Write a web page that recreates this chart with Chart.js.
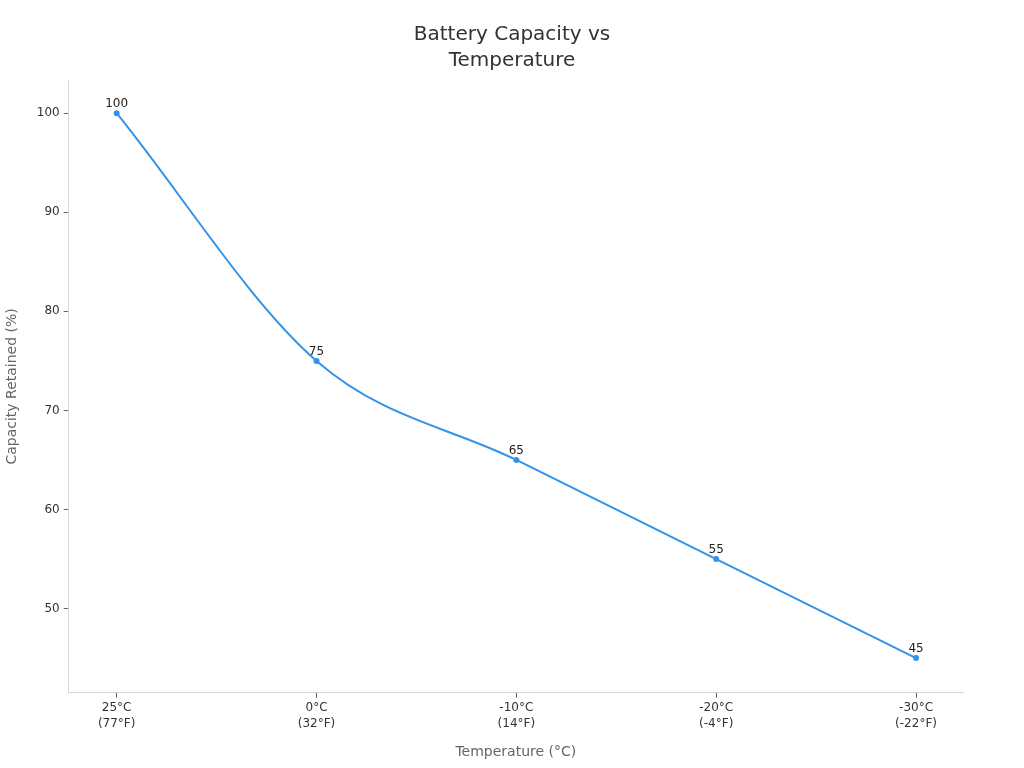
<!DOCTYPE html>
<html>
<head>
<meta charset="utf-8">
<script src="https://cdn.jsdelivr.net/npm/chart.js@4/dist/chart.umd.min.js"></script>
<style>
  html, body { margin: 0; padding: 0; background: #fff; }
  #wrap { width: 1024px; height: 768px; }
</style>
</head>
<body>
<div id="wrap"><canvas id="chart" width="1024" height="768"></canvas></div>
<script>
// ==== data ====
const tempLabels = [["25°C", "(77°F)"], ["0°C", "(32°F)"], ["-10°C", "(14°F)"], ["-20°C", "(-4°F)"], ["-30°C", "(-22°F)"]];
const capacity = [100, 75, 65, 55, 45];
const yTicks = [50, 60, 70, 80, 90, 100];

const LINE = '#3393e8';
const FONT = "'DejaVu Sans', sans-serif";

// draws the value above each point
const pointLabels = {
  id: 'pointLabels',
  afterDatasetsDraw(chart) {
    const ctx = chart.ctx;
    const meta = chart.getDatasetMeta(0);
    ctx.save();
    ctx.font = '12px ' + FONT;
    ctx.fillStyle = '#222';
    ctx.textAlign = 'center';
    ctx.textBaseline = 'bottom';
    meta.data.forEach((pt, i) => ctx.fillText(String(capacity[i]), pt.x, pt.y - 3));
    ctx.restore();
  }
};

new Chart(document.getElementById('chart'), {
  type: 'line',
  data: {
    datasets: [{
      data: capacity.map((v, i) => ({ x: i, y: v })),
      borderColor: LINE,
      backgroundColor: LINE,
      borderWidth: 2,
      pointRadius: 2,
      pointHoverRadius: 2,
      cubicInterpolationMode: 'monotone',
      fill: false
    }]
  },
  options: {
    responsive: false,
    animation: false,
    layout: { padding: { left: 0, right: 0, top: 10, bottom: 3 } },
    plugins: {
      legend: { display: false },
      tooltip: { enabled: false },
      title: {
        display: true,
        text: ['Battery Capacity vs', 'Temperature'],
        color: '#333',
        font: { family: FONT, size: 20, weight: 'normal', lineHeight: 1.3 },
        padding: { top: 12, bottom: 6 }
      }
    },
    scales: {
      x: {
        type: 'linear',
        min: -0.24,
        max: 4.235,
        afterBuildTicks: axis => { axis.ticks = tempLabels.map((_, i) => ({ value: i })); },
        ticks: {
          callback: v => tempLabels[v],
          color: '#333',
          font: { family: FONT, size: 12, lineHeight: 1.35 },
          padding: 2,
          maxRotation: 0
        },
        grid: { drawOnChartArea: false, color: '#666', tickLength: 5 },
        border: { color: '#d6d6d6', width: 1 },
        title: {
          display: true,
          text: 'Temperature (°C)',
          color: '#666',
          font: { family: FONT, size: 14 },
          padding: { top: 10, bottom: 4 }
        }
      },
      y: {
        min: 41.5,
        max: 103.35,
        afterBuildTicks: axis => { axis.ticks = yTicks.map(v => ({ value: v })); },
        ticks: {
          color: '#333',
          font: { family: FONT, size: 12 },
          padding: 4
        },
        grid: { drawOnChartArea: false, color: '#666', tickLength: 5 },
        border: { color: '#d6d6d6', width: 1 },
        title: {
          display: true,
          text: 'Capacity Retained (%)',
          color: '#666',
          font: { family: FONT, size: 14 },
          padding: { top: 4, bottom: 12 }
        }
      },
      // empty right-hand gutter so the title stays centred on the page
      gutter: {
        type: 'linear',
        position: 'right',
        min: 0,
        max: 1,
        grid: { display: false },
        border: { display: false },
        ticks: { display: false },
        afterFit: s => { s.width = 61; }
      }
    }
  },
  plugins: [pointLabels]
});
</script>
</body>
</html>
